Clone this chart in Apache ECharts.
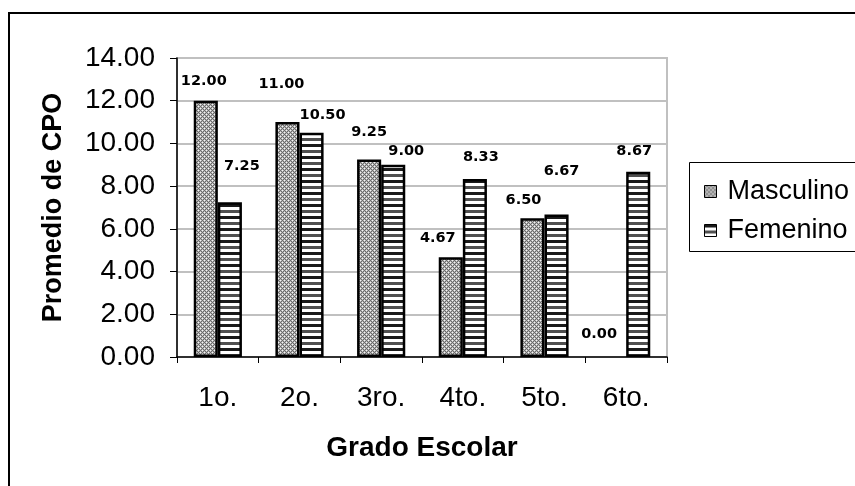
<!DOCTYPE html>
<html>
<head>
<meta charset="utf-8">
<title>Promedio de CPO por grado escolar</title>
<script src="https://cdn.jsdelivr.net/npm/echarts@6/dist/echarts.min.js"></script>
<style>
  html, body { margin: 0; padding: 0; background: #fff; }
  #chart { width: 855px; height: 486px; }
</style>
</head>
<body>
<div id="chart"></div>
<script>
// Grades and mean CPO values per sex
const grados = ['1o.', '2o.', '3ro.', '4to.', '5to.', '6to.'];
const masculino = [12.00, 11.00, 9.25, 4.67, 6.50, 0.00];
const femenino = [7.25, 10.50, 9.00, 8.33, 6.67, 8.67];
const yTicks = [0, 2, 4, 6, 8, 10, 12, 14];

// Hand-placed label nudges [dx, dy] for each bar
const mascLabelShift = [[-2, -7], [-6, -25], [0, -15], [-13, -7], [-9, -5], [-15, -10]];
const femLabelShift = [[12, -23], [11, -5], [13, -1], [6, -9], [5, -31], [-4, -8]];

const FONT = '"Liberation Sans", Arial, sans-serif';

// Fill patterns drawn on small canvases
function makePattern(w, h, painter) {
  const c = document.createElement('canvas');
  c.width = w; c.height = h;
  const ctx = c.getContext('2d');
  painter(ctx);
  return { image: c, repeat: 'repeat' };
}

// Diamond lattice: white dots surrounded by light and dark grey
const crossHatch = makePattern(4, 4, ctx => {
  const W = '#f4f4f4', L = '#b8b8b8', D = '#6a6a6a';
  const rows = [
    [W, L, D, L],
    [L, D, L, D],
    [D, L, W, L],
    [L, D, L, D]
  ];
  rows.forEach((row, y) => row.forEach((col, x) => {
    ctx.fillStyle = col;
    ctx.fillRect(x, y, 1, 1);
  }));
});

// Horizontal stripes, alternating black and dark grey
const hStripes = makePattern(4, 12, ctx => {
  ctx.fillStyle = '#ffffff';
  ctx.fillRect(0, 0, 4, 12);
  ctx.fillStyle = '#1a1a1a';
  ctx.fillRect(0, 0, 4, 3);
  ctx.fillStyle = '#505050';
  ctx.fillRect(0, 6, 4, 3);
});

const labelBase = {
  show: true,
  position: 'top',
  distance: 5,
  fontFamily: '"DejaVu Sans", sans-serif',
  fontWeight: 'bold',
  fontSize: 14.5,
  color: '#000',
  formatter: p => p.value.toFixed(2)
};

function buildData(values, shifts) {
  return values.map((v, i) => ({
    value: v,
    label: { offset: shifts[i] },
    itemStyle: v === 0 ? { borderWidth: 0 } : undefined
  }));
}

const chart = echarts.init(document.getElementById('chart'), null, { renderer: 'canvas' });

chart.setOption({
  animation: false,
  backgroundColor: '#fff',
  textStyle: { fontFamily: FONT },
  grid: {
    left: 177, top: 58, right: 188, bottom: 129,
    show: true, borderColor: '#c0c0c0', borderWidth: 2
  },
  legend: {
    left: 699, top: 173,
    orient: 'vertical',
    icon: 'rect',
    itemWidth: 12, itemHeight: 12,
    itemGap: 12,
    itemStyle: { borderColor: '#000', borderWidth: 1 },
    textStyle: { fontFamily: FONT, fontSize: 27, color: '#000', padding: [0, 0, 0, 6] },
    data: ['Masculino', 'Femenino']
  },
  xAxis: {
    type: 'category',
    data: grados,
    name: 'Grado Escolar',
    nameLocation: 'middle',
    nameGap: 77,
    nameTextStyle: { fontFamily: FONT, fontSize: 28, fontWeight: 'bold', color: '#000' },
    axisLine: { lineStyle: { color: '#000', width: 1.5 } },
    axisTick: { show: true, length: 6, lineStyle: { color: '#000' } },
    axisLabel: { fontFamily: FONT, fontSize: 28, color: '#000', margin: 27 },
    splitLine: { show: false }
  },
  yAxis: {
    type: 'value',
    min: yTicks[0],
    max: yTicks[yTicks.length - 1],
    interval: 2,
    name: 'Promedio de CPO',
    nameLocation: 'middle',
    nameGap: 110,
    nameRotate: 90,
    nameTextStyle: { fontFamily: FONT, fontSize: 27, fontWeight: 'bold', color: '#000' },
    axisLine: { show: true, lineStyle: { color: '#000', width: 1.5 } },
    axisTick: { show: true, length: 7, lineStyle: { color: '#000' } },
    axisLabel: {
      fontFamily: FONT, fontSize: 28, color: '#000', margin: 22,
      formatter: v => v.toFixed(2)
    },
    splitLine: { show: true, lineStyle: { color: '#c0c0c0', width: 2 } }
  },
  series: [
    {
      name: 'Masculino',
      type: 'bar',
      data: buildData(masculino, mascLabelShift),
      barGap: '0%',
      barCategoryGap: '41%',
      itemStyle: { color: crossHatch, borderColor: '#000', borderWidth: 2.5 },
      label: labelBase
    },
    {
      name: 'Femenino',
      type: 'bar',
      data: buildData(femenino, femLabelShift),
      barGap: '0%',
      barCategoryGap: '41%',
      itemStyle: { color: hStripes, borderColor: '#000', borderWidth: 2.5 },
      label: labelBase
    }
  ],
  graphic: [
    {
      type: 'rect',
      shape: { x: 9, y: 13, width: 900, height: 600 },
      style: { fill: 'none', stroke: '#000', lineWidth: 2 },
      silent: true
    },
    {
      type: 'rect',
      shape: { x: 689.5, y: 162.5, width: 300, height: 89 },
      style: { fill: 'none', stroke: '#000', lineWidth: 1 },
      silent: true
    }
  ]
});
</script>
</body>
</html>
